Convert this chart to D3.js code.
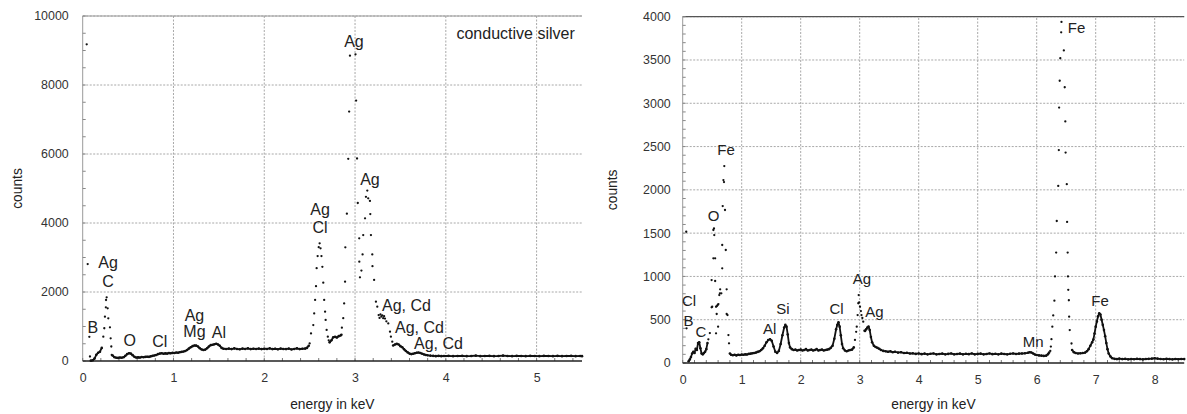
<!DOCTYPE html>
<html>
<head>
<meta charset="utf-8">
<script src="https://cdn.jsdelivr.net/npm/d3@7"></script>
<style>
  body { margin: 0; background: #fff; }
  svg { font-family: "Liberation Sans", Arial, sans-serif; }
</style>
</head>
<body>
<script>
// EDX spectra, values: [energy keV, counts]

// left panel: conductive silver
var silverTicksX = [0, 1, 2, 3, 4, 5];
var silverTicksY = [0, 2000, 4000, 6000, 8000, 10000];

// dense part of the spectrum, drawn as a run of dots (null = gap)
var silverTrace = [
  [0.09,10],[0.11,20],[0.13,70],[0.15,180],[0.17,240],[0.19,270],[0.21,380], null,
  [0.33,160],[0.35,110],[0.37,95],[0.39,90],[0.41,100],[0.43,95],[0.45,110],[0.47,150],[0.49,200],
  [0.51,225],[0.53,215],[0.55,170],[0.57,120],[0.59,100],[0.61,105],[0.63,100],[0.65,115],[0.67,110],
  [0.69,120],[0.71,125],[0.73,120],[0.75,135],[0.77,150],[0.79,160],[0.81,175],[0.83,200],[0.85,215],
  [0.87,225],[0.89,210],[0.91,220],[0.93,215],[0.95,230],[0.97,225],[0.99,235],[1.01,230],[1.03,245],
  [1.05,240],[1.07,255],[1.09,265],[1.11,275],[1.13,290],[1.15,320],[1.17,360],[1.19,400],[1.21,430],
  [1.23,450],[1.25,445],[1.27,420],[1.29,370],[1.31,335],[1.33,320],[1.35,330],[1.37,370],[1.39,420],
  [1.41,460],[1.43,470],[1.45,485],[1.47,500],[1.49,480],[1.51,440],[1.53,380],[1.55,355],[1.58,350],
  [1.61,360],[1.64,345],[1.67,365],[1.70,350],[1.73,340],[1.76,360],[1.79,350],[1.82,365],[1.85,345],
  [1.88,355],[1.91,350],[1.94,360],[1.97,345],[2.00,355],[2.03,350],[2.06,365],[2.09,345],[2.12,355],
  [2.15,340],[2.18,360],[2.21,350],[2.24,345],[2.27,360],[2.30,335],[2.33,350],[2.36,365],[2.39,345],
  [2.42,355],[2.45,360],[2.47,380],[2.49,440], null,
  [2.72,540],[2.74,600],[2.76,690],[2.78,700],[2.80,680],[2.82,720],[2.84,740],[2.85,760], null,
  [3.42,450],[3.44,480],[3.46,495],[3.48,480],[3.50,430],[3.52,400],[3.54,340],[3.56,290],[3.58,250],
  [3.60,215],[3.62,200],[3.64,210],[3.66,225],[3.68,240],[3.70,245],[3.72,230],[3.74,210],[3.76,190],
  [3.78,175],[3.80,165],[3.83,155],[3.86,150],[3.89,140],[3.92,150],[3.95,140],[3.98,145],[4.03,150],
  [4.08,140],[4.13,145],[4.18,150],[4.23,140],[4.28,145],[4.33,155],[4.38,140],[4.43,145],[4.48,150],
  [4.53,140],[4.58,145],[4.63,155],[4.68,145],[4.73,140],[4.78,150],[4.83,145],[4.88,140],[4.93,150],
  [4.98,145],[5.03,140],[5.08,150],[5.13,145],[5.18,140],[5.23,150],[5.28,140],[5.33,145],[5.38,150],
  [5.43,140],[5.48,145],[5.50,140]
];

// isolated points on the peaks
var silverDots = [
  [0.044,9180],[0.055,2810],[0.073,700],[0.08,130],
  [0.227,705],[0.238,950],[0.245,1285],[0.255,1556],[0.257,1768],[0.264,1846],[0.275,1527],
  [0.282,1237],[0.30,977],[0.308,658],[0.315,420],[0.32,174],
  [2.50,510],[2.515,800],[2.54,1040],[2.55,1380],[2.56,1770],[2.57,2170],[2.577,2690],[2.588,3040],
  [2.60,3300],[2.61,3410],[2.62,3265],[2.63,3040],[2.64,2730],[2.65,2270],[2.66,1770],[2.67,1430],
  [2.676,1190],[2.687,900],[2.70,705],[2.71,600],
  [2.855,965],[2.87,1240],[2.88,1670],[2.89,2300],[2.893,3295],[2.91,4270],[2.925,5860],[2.935,7230],
  [2.944,8850],[3.005,8890],[3.012,7550],[3.022,5870],[3.03,4580],[3.046,3555],[3.047,2880],[3.054,2425],
  [3.07,2620],[3.083,3090],[3.09,3650],[3.11,4135],[3.12,4760],[3.135,4940],[3.145,4715],[3.164,4640],
  [3.168,4260],[3.175,3650],[3.19,3090],[3.192,2750],[3.21,2350],[3.23,1720],[3.245,1575],[3.26,1330],
  [3.27,1250],[3.28,1350],[3.29,1290],[3.30,1320],[3.31,1240],[3.32,1300],[3.33,1230],[3.345,1150],
  [3.366,1090],[3.385,850],[3.395,705],[3.41,560]
];

// [text, energy, counts] for the labels (counts = text baseline)
var silverLabels = [
  ["Ag", 2.988, 9110], ["Ag", 3.164, 5100], ["Ag", 2.615, 4230], ["Cl", 2.615, 3710],
  ["Ag", 0.28, 2700], ["C", 0.28, 2150], ["B", 0.113, 810], ["O", 0.518, 435], ["Cl", 0.85, 415],
  ["Ag", 1.231, 1170], ["Mg", 1.231, 695], ["Al", 1.50, 667]
];
var silverLabelsLeft = [
  ["Ag, Cd", 3.297, 1450], ["Ag, Cd", 3.44, 810], ["Ag, Cd", 3.65, 357]
];

// right panel
var ironTicksX = [0, 1, 2, 3, 4, 5, 6, 7, 8];
var ironTicksY = [0, 500, 1000, 1500, 2000, 2500, 3000, 3500, 4000];

var ironTrace = [
  [0.10,20],[0.12,40],[0.14,70],[0.16,110],[0.18,130],[0.20,115],[0.22,165],[0.24,150],[0.26,230],
  [0.28,240],[0.30,170],[0.32,110],[0.34,100],[0.36,115],[0.38,130],[0.40,160],[0.42,230], null,
  [0.80,110],[0.82,95],[0.85,90],[0.88,95],[0.91,88],[0.94,95],[0.97,92],[1.00,98],[1.03,95],[1.06,100],
  [1.09,98],[1.12,105],[1.15,108],[1.18,112],[1.21,115],[1.24,120],[1.27,128],[1.30,135],[1.33,150],
  [1.36,170],[1.39,200],[1.42,240],[1.45,265],[1.48,275],[1.51,255],[1.54,190],[1.57,130],[1.60,115],
  [1.63,140],[1.66,220],[1.69,320],[1.72,410],[1.74,440],[1.76,420],[1.78,330],[1.80,230],[1.82,180],
  [1.85,160],[1.88,150],[1.91,155],[1.94,145],[1.97,150],[2.00,155],[2.03,145],[2.06,150],[2.09,160],
  [2.12,145],[2.15,150],[2.18,155],[2.21,145],[2.24,150],[2.27,160],[2.30,145],[2.33,150],[2.36,155],
  [2.39,145],[2.42,150],[2.45,155],[2.48,160],[2.51,175],[2.54,200],[2.57,280],[2.60,390],[2.62,440],
  [2.64,470],[2.66,420],[2.68,320],[2.70,220],[2.72,170],[2.75,145],[2.78,135],[2.81,145],[2.84,150],
  [2.87,155],[2.90,180], null,
  [3.09,370],[3.11,390],[3.13,410],[3.15,420],[3.17,380],[3.19,300],[3.21,240],[3.24,200],[3.27,185],
  [3.30,175],[3.33,165],[3.36,150],[3.40,140],[3.44,135],[3.48,130],[3.52,135],[3.56,125],[3.60,130],
  [3.65,120],[3.70,125],[3.75,115],[3.80,118],[3.85,110],[3.90,112],[3.95,105],[4.00,110],[4.05,102],
  [4.10,108],[4.15,100],[4.20,106],[4.25,110],[4.30,100],[4.35,104],[4.40,108],[4.45,100],[4.50,105],
  [4.55,110],[4.60,100],[4.65,104],[4.70,108],[4.75,100],[4.80,106],[4.85,102],[4.90,110],[4.95,100],
  [5.00,105],[5.05,108],[5.10,100],[5.15,104],[5.20,110],[5.25,102],[5.30,106],[5.35,100],[5.40,108],
  [5.45,104],[5.50,100],[5.55,106],[5.60,110],[5.65,104],[5.70,108],[5.75,110],[5.80,112],[5.85,118],
  [5.88,125],[5.91,122],[5.94,110],[5.97,98],[6.00,92],[6.04,88],[6.08,85],[6.12,82],[6.16,85],
  [6.19,100],[6.21,120], null,
  [6.60,150],[6.63,125],[6.66,115],[6.70,110],[6.74,112],[6.78,115],[6.82,120],[6.85,135],[6.88,160],
  [6.91,200],[6.94,240],[6.96,270],[6.98,340],[7.00,420],[7.02,480],[7.04,540],[7.06,575],[7.08,560],
  [7.10,500],[7.12,440],[7.14,380],[7.16,310],[7.18,230],[7.20,160],[7.22,110],[7.25,75],[7.28,55],
  [7.32,48],[7.36,45],[7.40,50],[7.45,45],[7.50,48],[7.55,42],[7.60,46],[7.65,44],[7.70,48],[7.75,45],
  [7.80,42],[7.85,46],[7.90,48],[7.95,50],[8.00,55],[8.05,50],[8.10,46],[8.15,44],[8.20,48],[8.25,45],
  [8.30,42],[8.35,46],[8.40,44],[8.45,47],[8.50,45]
];

var ironDots = [
  [0.06,1516],[0.065,400],
  [0.435,273],[0.46,346],[0.49,643],[0.49,958],[0.50,650],[0.52,1209],[0.52,1536],[0.53,1555],
  [0.535,1478],[0.55,1209],[0.55,947],[0.565,650],[0.565,343],[0.576,566],[0.58,658],[0.593,670],
  [0.60,420],[0.605,681],[0.62,785],[0.63,805],[0.635,851],[0.655,805],[0.67,1094],[0.67,1363],
  [0.678,1813],[0.69,2113],[0.70,2090],[0.705,2275],[0.717,1767],[0.73,1305],[0.745,851],[0.745,566],
  [0.76,554],[0.775,323],[0.785,227],
  [2.92,266],[2.94,360],[2.95,420],[2.965,554],[2.976,690],[2.983,785],[2.99,700],[3.005,650],
  [3.02,600],[3.03,554],[3.045,520],[3.06,477],[3.08,373],
  [6.23,140],[6.24,190],[6.25,275],[6.265,420],[6.28,550],[6.30,720],[6.31,1000],[6.33,1275],
  [6.34,1640],[6.365,2045],[6.375,2460],[6.38,2950],[6.39,3260],[6.40,3520],[6.415,3820],[6.42,3940],
  [6.46,3610],[6.475,3185],[6.485,2790],[6.49,2430],[6.51,2065],[6.515,1630],[6.525,1275],[6.53,1000],
  [6.535,845],[6.545,725],[6.55,535],[6.56,380],[6.59,225]
];

var ironLabels = [
  ["Fe", 0.734, 2402], ["O", 0.522, 1643], ["Cl", 0.107, 658], ["B", 0.10, 427], ["C", 0.31, 300],
  ["Al", 1.475, 335], ["Si", 1.70, 562], ["Cl", 2.607, 562], ["Ag", 3.039, 909], ["Ag", 3.25, 535],
  ["Mn", 5.942, 188], ["Fe", 7.073, 658], ["Fe", 6.675, 3807]
];

var width = 1187, height = 414;

var svg = d3.select("body")
    .append("svg")
    .attr("width", width)
    .attr("height", height);

drawPanel({
  x: d3.scaleLinear().domain([0, 5.5]).range([82.7, 582]),
  y: d3.scaleLinear().domain([0, 10000]).range([361, 16]),
  ticksX: silverTicksX, ticksY: silverTicksY,
  minorX: 0.2, minorY: 500, yPad: 14, labelSize: 16,
  frame: "#9a9a9a", yTitleX: 17,
  trace: silverTrace, dots: silverDots,
  labels: silverLabels, labelsLeft: silverLabelsLeft,
  note: ["conductive silver", 5.42, 9320]
});

drawPanel({
  x: d3.scaleLinear().domain([0, 8.5]).range([682.7, 1184.2]),
  y: d3.scaleLinear().domain([0, 4000]).range([363, 16.7]),
  ticksX: ironTicksX, ticksY: ironTicksY,
  minorX: 0.2, minorY: 100, yPad: 12, labelSize: 15,
  frame: "#555", yTitleX: 612,
  trace: ironTrace, dots: ironDots,
  labels: ironLabels, labelsLeft: [],
  note: null
});

function drawPanel(p){
  var x = p.x, y = p.y;
  var x0 = x.range()[0], x1 = x.range()[1];
  var y0 = y.range()[0], y1 = y.range()[1];
  var g = svg.append("g");

  // grid
  g.selectAll(".gx").data(p.ticksX.filter(function(d){ return d > 0; }))
    .enter().append("line")
    .attr("x1", function(d){ return x(d); }).attr("x2", function(d){ return x(d); })
    .attr("y1", y0).attr("y2", y1)
    .attr("stroke", "#a8a8a8").attr("stroke-dasharray", "2,1.5");
  g.selectAll(".gy").data(p.ticksY.filter(function(d){ return d > 0; }))
    .enter().append("line")
    .attr("x1", x0).attr("x2", x1)
    .attr("y1", function(d){ return y(d); }).attr("y2", function(d){ return y(d); })
    .attr("stroke", "#a8a8a8").attr("stroke-dasharray", "2,1.5");

  // top border and left axis line
  g.append("line").attr("x1", x0).attr("x2", x1).attr("y1", y1).attr("y2", y1)
    .attr("stroke", p.frame).attr("stroke-width", 1.2);
  g.append("line").attr("x1", x0).attr("x2", x0).attr("y1", y0).attr("y2", y1)
    .attr("stroke", "#9a9a9a");

  // minor ticks
  var mx = d3.range(0, x.domain()[1] + 1e-9, p.minorX);
  g.selectAll(".mx").data(mx).enter().append("line")
    .attr("x1", function(d){ return x(d); }).attr("x2", function(d){ return x(d); })
    .attr("y1", y0).attr("y2", y0 - 3)
    .attr("stroke", "#777");
  var my = d3.range(0, y.domain()[1] + 1e-9, p.minorY);
  g.selectAll(".my").data(my).enter().append("line")
    .attr("x1", x0).attr("x2", x0 + 3)
    .attr("y1", function(d){ return y(d); }).attr("y2", function(d){ return y(d); })
    .attr("stroke", "#888");

  // tick labels
  var ax = g.append("g").attr("transform", "translate(0," + y0 + ")")
    .call(d3.axisBottom(x).tickValues(p.ticksX).tickFormat(d3.format("d")).tickSize(0).tickPadding(12));
  var ay = g.append("g").attr("transform", "translate(" + x0 + ",0)")
    .call(d3.axisLeft(y).tickValues(p.ticksY).tickFormat(d3.format("d")).tickSize(0).tickPadding(p.yPad));
  [ax, ay].forEach(function(a){
    a.select(".domain").remove();
    a.selectAll("text").attr("font-size", 12.4).attr("fill", "#333")
      .attr("font-family", "'Liberation Sans', Arial, sans-serif");
  });

  // bottom axis line
  g.append("line").attr("x1", x0).attr("x2", x1).attr("y1", y0).attr("y2", y0)
    .attr("stroke", "#222").attr("stroke-width", 1.4);

  // axis titles
  g.append("text").attr("x", (x0 + x1) / 2).attr("y", 409)
    .attr("text-anchor", "middle").attr("font-size", 13.8).attr("fill", "#222")
    .text("energy in keV");
  g.append("text")
    .attr("transform", "translate(" + (p.yTitleX + 5) + "," + ((y0 + y1) / 2) + ") rotate(-90)")
    .attr("text-anchor", "middle").attr("font-size", 13.8).attr("fill", "#222")
    .text("counts");

  // dense part: dotted run + thin joining line
  var line = d3.line()
    .defined(function(d){ return d !== null; })
    .x(function(d){ return x(d[0]); })
    .y(function(d){ return y(d[1]); });
  g.append("path").datum(p.trace)
    .attr("d", line).attr("fill", "none")
    .attr("stroke", "#111").attr("stroke-width", 1.8).attr("stroke-linejoin", "round");
  g.selectAll(".tr").data(p.trace.filter(function(d){ return d !== null; }))
    .enter().append("circle")
    .attr("cx", function(d){ return x(d[0]); })
    .attr("cy", function(d){ return y(d[1]); })
    .attr("r", 1.3).attr("fill", "#111");

  g.selectAll(".dot").data(p.dots)
    .enter().append("circle")
    .attr("cx", function(d){ return x(d[0]); })
    .attr("cy", function(d){ return y(d[1]); })
    .attr("r", 1.15).attr("fill", "#111");

  // element labels
  g.selectAll(".lab").data(p.labels).enter().append("text")
    .attr("x", function(d){ return x(d[1]); })
    .attr("y", function(d){ return y(d[2]); })
    .attr("text-anchor", "middle").attr("font-size", p.labelSize).attr("fill", "#222")
    .text(function(d){ return d[0]; });
  g.selectAll(".labl").data(p.labelsLeft).enter().append("text")
    .attr("x", function(d){ return x(d[1]); })
    .attr("y", function(d){ return y(d[2]); })
    .attr("text-anchor", "start").attr("font-size", p.labelSize).attr("fill", "#222")
    .text(function(d){ return d[0]; });

  if (p.note) {
    g.append("text").attr("x", x(p.note[1])).attr("y", y(p.note[2]))
      .attr("text-anchor", "end").attr("font-size", 16).attr("fill", "#222")
      .text(p.note[0]);
  }
}
</script>
</body>
</html>
